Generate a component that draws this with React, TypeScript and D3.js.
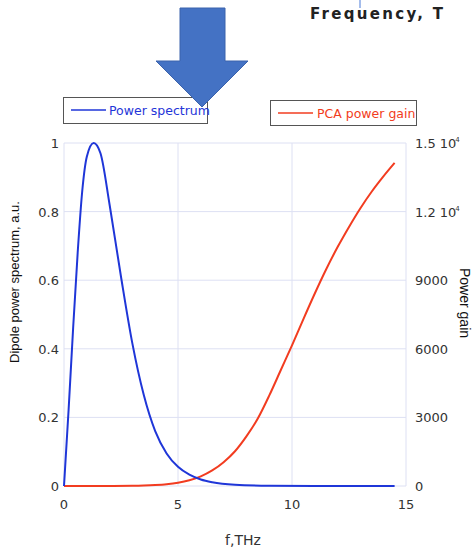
import React from "react";
import * as d3 from "d3";

const blueF = [0, 0.2, 0.4, 0.6, 0.8, 1.0, 1.3, 1.6, 2.0, 2.5, 3.0, 3.5, 4.0, 4.5, 5.0, 5.5, 6.0, 6.5, 7.5, 9, 11, 14.5];
const blueV = [0, 0.22, 0.46, 0.68, 0.86, 0.96, 1.0, 0.97, 0.82, 0.61, 0.415, 0.265, 0.16, 0.095, 0.056, 0.033, 0.019, 0.011, 0.0038, 0.001, 0.0002, 0];
const redF = [0, 2, 3, 3.5, 4, 4.5, 5, 5.5, 6, 6.5, 7, 7.5, 8, 8.5, 9, 9.5, 10, 10.5, 11, 11.5, 12, 12.5, 13, 13.5, 14, 14.5];
const redV = [0, 4, 10, 20, 40, 75, 140, 250, 420, 680, 1040, 1520, 2170, 2950, 3950, 5050, 6150, 7300, 8420, 9480, 10450, 11330, 12150, 12880, 13530, 14130];
const xTicks = [0, 5, 10, 15];
const leftTicks = [0, 0.2, 0.4, 0.6, 0.8, 1];
const rightTicks = [0, 3000, 6000, 9000, 12000, 15000];
const rightLabels = ["0", "3000", "6000", "9000", "1.2 10", "1.5 10"];

export default function App() {
  const x = d3.scaleLinear().domain([0, 15]).range([64, 406]);
  const yL = d3.scaleLinear().domain([0, 1]).range([486, 143]);
  const yR = d3.scaleLinear().domain([0, 15000]).range([486, 143]);
  const blueLine = d3.line<number>().x((d, i) => x(blueF[i])).y((d) => yL(d)).curve(d3.curveMonotoneX);
  const redLine = d3.line<number>().x((d, i) => x(redF[i])).y((d) => yR(d)).curve(d3.curveMonotoneX);
  const grid = "#dde0f3";
  const txt = "#333";
  const font = "Liberation Sans, Arial, sans-serif";
  const tickFont = "DejaVu Sans, sans-serif";
  const blue = "#1f36d8";
  const red = "#f23c20";
  return (
    <svg width={476} height={548} style={{ position: "absolute", left: 0, top: 0, background: "#fff" }} fontFamily={font}>
      <rect x={0} y={0} width={476} height={548} fill="#fff" />
      {/* top remnants */}
      <line x1={360} x2={360} y1={0} y2={8} stroke="#4a7bd8" strokeWidth={1} />
      <text x={310} y={19} fontSize={15} fontWeight="bold" letterSpacing={2.3} fill="#222" fontFamily="DejaVu Sans, sans-serif">Frequency, T</text>
      {/* grid */}
      {xTicks.map((t) => (
        <line key={"gx" + t} x1={x(t)} x2={x(t)} y1={yL(1)} y2={yL(0)} stroke={grid} strokeWidth={1} />
      ))}
      {leftTicks.map((t) => (
        <line key={"gy" + t} x1={x(0)} x2={x(15)} y1={yL(t)} y2={yL(t)} stroke={grid} strokeWidth={1} />
      ))}
      {/* left ticks */}
      {leftTicks.map((t) => (
        <text key={"lt" + t} x={59} y={yL(t) + 5} textAnchor="end" fontSize={13} fill={txt} fontFamily={tickFont}>{String(t)}</text>
      ))}
      {/* right ticks */}
      {rightTicks.map((t, i) => (
        <text key={"rt" + t} x={415} y={yR(t) + 5} textAnchor="start" fontSize={13} fill={txt} fontFamily={tickFont}>
          {rightLabels[i]}
          {t >= 12000 ? <tspan fontSize={7} dx={-1} dy={-6}>4</tspan> : null}
        </text>
      ))}
      {/* x ticks */}
      {xTicks.map((t) => (
        <text key={"xt" + t} x={x(t)} y={509} textAnchor="middle" fontSize={13} fill={txt} fontFamily={tickFont}>{String(t)}</text>
      ))}
      {/* axis titles */}
      <text x={243} y={545} textAnchor="middle" fontSize={14} fill={txt} fontFamily={tickFont}>f,THz</text>
      <text transform={`translate(19,282) rotate(-90)`} textAnchor="middle" fontSize={13} fill="#111">Dipole power spectrum, a.u.</text>
      <text transform={`translate(460,303) rotate(90)`} textAnchor="middle" fontSize={14} fill="#111">Power gain</text>
      {/* curves */}
      <path d={redLine(redV) || ""} fill="none" stroke={red} strokeWidth={2} />
      <path d={blueLine(blueV) || ""} fill="none" stroke={blue} strokeWidth={2} />
      {/* legends */}
      <rect x={63.5} y={97.5} width={144} height={26} fill="#fff" stroke="#555" strokeWidth={1} />
      <line x1={71} x2={106} y1={110} y2={110} stroke={blue} strokeWidth={1.5} />
      <text x={109} y={115} fontSize={12.5} fill={blue} fontFamily={tickFont}>Power spectrum</text>
      <rect x={270.5} y={100.5} width={146} height={25} fill="#fff" stroke="#555" strokeWidth={1} />
      <line x1={278} x2={313} y1={113} y2={113} stroke={red} strokeWidth={1.5} />
      <text x={317} y={118} fontSize={12.5} fill={red} fontFamily={tickFont}>PCA power gain</text>
      {/* arrow */}
      <path d="M180,8 L225,8 L225,61 L248,61 L202,107 L156,61 L180,61 Z" fill="#4472c4" stroke="#3a62ac" strokeWidth={1} />
    </svg>
  );
}
